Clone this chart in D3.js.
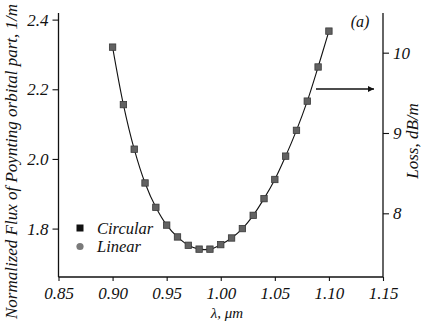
<!DOCTYPE html>
<html><head><meta charset="utf-8">
<script src="https://cdn.jsdelivr.net/npm/d3@7"></script>
<style>
html,body{margin:0;padding:0;background:#fff;}
svg text{font-family:"Liberation Serif","Times New Roman",serif;font-style:italic;fill:#111;}
</style>
</head><body>
<svg id="chart" width="424" height="325"></svg>
<script>
const wavelengths = [0.90,0.91,0.92,0.93,0.94,0.95,0.96,0.97,0.98,0.99,1.00,1.01,1.02,1.03,1.04,1.05,1.06,1.07,1.08,1.09,1.10];
const circularFlux = [2.321,2.156,2.028,1.931,1.861,1.810,1.776,1.752,1.741,1.741,1.754,1.773,1.800,1.838,1.886,1.941,2.008,2.082,2.166,2.264,2.367];
const linearFlux   = [2.321,2.156,2.028,1.931,1.861,1.810,1.776,1.752,1.741,1.741,1.754,1.773,1.800,1.838,1.886,1.941,2.008,2.082,2.166,2.264,2.367];
const xTicks = [0.85,0.90,0.95,1.00,1.05,1.10,1.15];
const yLeftTicks = [1.8,2.0,2.2,2.4];
const yRightTicks = [8,9,10];
const seriesNames = ["Circular","Linear"];

const svg = d3.select("#chart");
const L = 58.5, R = 383, T = 13, B = 277;
const x = d3.scaleLinear().domain([0.85,1.15]).range([L,R]);
const y = d3.scaleLinear().domain([1.661,2.419]).range([B,T]);
const y2 = d3.scaleLinear().domain([7.207,10.494]).range([B,T]);

const fmt2 = d3.format(".2f"), fmt1 = d3.format(".1f");

const gx = svg.append("g").attr("transform",`translate(0,${B})`)
  .call(d3.axisBottom(x).tickValues(xTicks).tickFormat(fmt2).tickSize(4).tickPadding(6).tickSizeOuter(0));
const gy = svg.append("g").attr("transform",`translate(${L},0)`)
  .call(d3.axisLeft(y).tickValues(yLeftTicks).tickFormat(fmt1).tickSize(6).tickPadding(4).tickSizeOuter(0));
const gy2 = svg.append("g").attr("transform",`translate(${R},0)`)
  .call(d3.axisRight(y2).tickValues(yRightTicks).tickFormat(d3.format("d")).tickSize(6).tickPadding(4).tickSizeOuter(0));
[gx,gy,gy2].forEach(g=>{
  g.select(".domain").attr("stroke","#111").attr("stroke-width",1.3);
  g.selectAll(".tick line").attr("stroke","#111").attr("stroke-width",1.1);
  g.selectAll(".tick text").attr("font-size",17).attr("font-family",null).attr("fill","#111");
});
gx.select(".domain").attr("d",`M${L},0H${R}`);
gy.select(".domain").attr("d",`M0,${T}V${B}`);
gy2.select(".domain").attr("d",`M0,${T}V${B}`);

// curve
const line = d3.line().x((d,i)=>x(wavelengths[i])).y(d=>y(d)).curve(d3.curveCatmullRom.alpha(0.5));
svg.append("path").datum(circularFlux).attr("d",line).attr("fill","none").attr("stroke","#111").attr("stroke-width",1.1);

// linear markers (circles, underneath)
svg.append("g").selectAll("circle").data(linearFlux).join("circle")
  .attr("cx",(d,i)=>x(wavelengths[i])).attr("cy",d=>y(d)).attr("r",3).attr("fill","#808080");
// circular markers (squares)
svg.append("g").selectAll("rect").data(circularFlux).join("rect")
  .attr("x",(d,i)=>x(wavelengths[i])-3.2).attr("y",d=>y(d)-3.2).attr("width",6.4).attr("height",6.4)
  .attr("fill","#626262").attr("stroke","#3a3a3a").attr("stroke-width",0.8);

// legend
const leg = svg.append("g");
leg.append("rect").attr("x",76.5).attr("y",224.5).attr("width",7).attr("height",7).attr("fill","#111");
leg.append("circle").attr("cx",80).attr("cy",246.5).attr("r",3.6).attr("fill","#7a7a7a");
leg.append("text").attr("x",97).attr("y",233.5).attr("font-size",16.5).text(seriesNames[0]);
leg.append("text").attr("x",97).attr("y",252).attr("font-size",16.5).text(seriesNames[1]);

// arrow
svg.append("defs").append("marker").attr("id","ah").attr("viewBox","0 0 10 10")
  .attr("refX",10).attr("refY",5).attr("markerWidth",12).attr("markerHeight",6).attr("markerUnits","userSpaceOnUse").attr("orient","auto")
  .append("path").attr("d","M0,0L10,5L0,10Z").attr("fill","#111");
svg.append("line").attr("x1",316).attr("x2",374).attr("y1",89).attr("y2",89)
  .attr("stroke","#111").attr("stroke-width",1.3).attr("marker-end","url(#ah)");

// panel label
svg.append("text").attr("x",360).attr("y",27).attr("text-anchor","middle").attr("font-size",16).text("(a)");

// axis titles
svg.append("text").attr("x",227).attr("y",318).attr("text-anchor","middle").attr("font-size",15).text("λ, μm");
svg.append("text").attr("transform","translate(17,319) rotate(-90)").attr("text-anchor","start").attr("font-size",17)
  .text("Normalized Flux of Poynting orbital part, 1/m");
svg.append("text").attr("transform","translate(418,141) rotate(-90)").attr("text-anchor","middle").attr("font-size",17)
  .text("Loss, dB/m");
</script>
</body></html>
